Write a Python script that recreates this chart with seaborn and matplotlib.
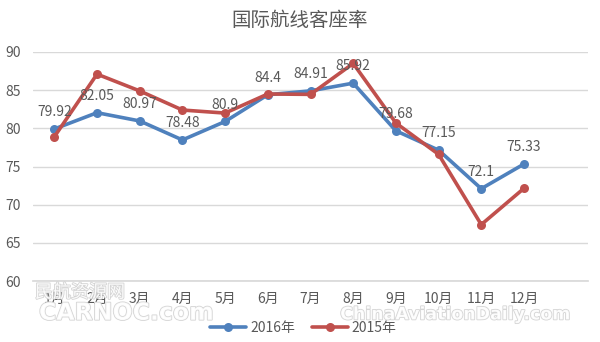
import matplotlib
matplotlib.use("Agg")
import matplotlib.pyplot as plt
import matplotlib.patheffects as pe
import seaborn as sns
import pandas as pd

months = ["1月", "2月", "3月", "4月", "5月", "6月", "7月", "8月", "9月", "10月", "11月", "12月"]
load_2016 = [79.92, 82.05, 80.97, 78.48, 80.9, 84.4, 84.91, 85.92, 79.68, 77.15, 72.1, 75.33]
load_2015 = [78.9, 87.1, 84.9, 82.4, 82.0, 84.5, 84.45, 88.5, 80.7, 76.6, 67.4, 72.15]
series_names = ["2016年", "2015年"]
y_ticks = [60, 65, 70, 75, 80, 85, 90]

sns.set_theme(style="white")
plt.rcParams["font.family"] = ["Noto Sans CJK SC", "DejaVu Sans"]

df = pd.DataFrame({
    "month": months * 2,
    "value": load_2016 + load_2015,
    "year": [series_names[0]] * len(months) + [series_names[1]] * len(months),
})

fig = plt.figure(figsize=(6.0, 3.42), dpi=100)
ax = fig.add_axes([0.055, 0.178, 0.925, 0.67])

palette = {series_names[0]: "#4F81BD", series_names[1]: "#C0504D"}
sns.lineplot(data=df, x="month", y="value", hue="year", hue_order=series_names,
             palette=palette, marker="o", markersize=6.5, markeredgewidth=0,
             linewidth=2.6, sort=False, ax=ax)

text_gray = "#595959"
ax.set_ylim(60, 90)
ax.set_xlim(-0.5, 12.5)
ax.set_yticks(y_ticks)
ax.yaxis.grid(True, color="#D9D9D9", linewidth=1)
ax.set_axisbelow(True)
for s in ["top", "right", "left"]:
    ax.spines[s].set_visible(False)
ax.spines["bottom"].set_color("#D9D9D9")
ax.tick_params(axis="both", length=0, colors=text_gray, labelsize=10)
ax.tick_params(axis="x", pad=8)
ax.tick_params(axis="y", pad=9)
ax.set_xlabel("")
ax.set_ylabel("")

# value labels above the 2016 points
for i, v in enumerate(load_2016):
    ax.annotate(f"{v:g}", (i, v), xytext=(0, 7), textcoords="offset points",
                ha="center", va="bottom", fontsize=10, color=text_gray)

fig.text(0.5, 0.94, "国际航线客座率", ha="center", va="center",
         fontsize=14, color=text_gray)

ax.legend(loc="center", bbox_to_anchor=(0.487, -0.205), ncol=2, frameon=False,
          fontsize=10, labelcolor=text_gray, handlelength=2.6, handletextpad=0.3,
          columnspacing=1.2)

# faint embossed site watermarks
emboss = [pe.withStroke(linewidth=1.2, foreground="#D0D0D0")]
fig.text(0.058, 0.13, "民航资源网", fontsize=13, color="white", style="italic",
         path_effects=emboss, alpha=0.9)
fig.text(0.065, 0.065, "CARNOC.com", fontsize=17, color="white", weight="bold",
         family="DejaVu Sans", path_effects=emboss, alpha=0.9)
fig.text(0.567, 0.066, "ChinaAviationDaily.com", fontsize=12.5, color="white",
         weight="bold", family="DejaVu Sans", path_effects=emboss, alpha=0.9)

fig.savefig("out.png", dpi=100)
